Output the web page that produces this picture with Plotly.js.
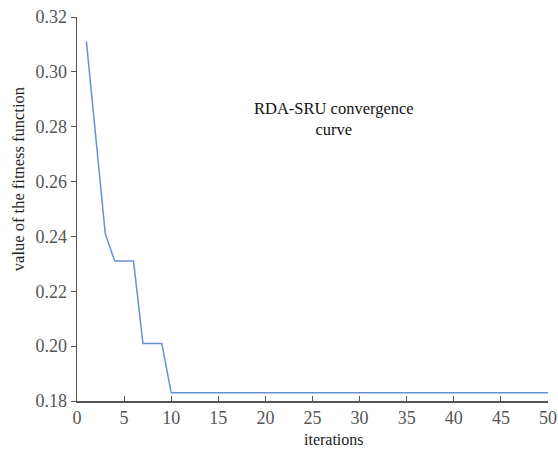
<!DOCTYPE html>
<html>
<head>
<meta charset="utf-8">
<script src="https://cdn.plot.ly/plotly-3.0.1.min.js"></script>
<style>html,body{margin:0;padding:0;background:#fff;}#chart{width:558px;height:451px;}</style>
</head>
<body>
<div id="chart"></div>
<script>
const iterations = [1,2,3,4,5,6,7,8,9,10,11,12,13,14,15,16,17,18,19,20,21,22,23,24,25,26,27,28,29,30,31,32,33,34,35,36,37,38,39,40,41,42,43,44,45,46,47,48,49,50];
const fitness = [0.311,0.276,0.241,0.231,0.231,0.231,0.201,0.201,0.201,0.183,
0.183,0.183,0.183,0.183,0.183,0.183,0.183,0.183,0.183,0.183,
0.183,0.183,0.183,0.183,0.183,0.183,0.183,0.183,0.183,0.183,
0.183,0.183,0.183,0.183,0.183,0.183,0.183,0.183,0.183,0.183,
0.183,0.183,0.183,0.183,0.183,0.183,0.183,0.183,0.183,0.183];
const xTicks = [0,5,10,15,20,25,30,35,40,45,50];
const yTicks = [0.18,0.20,0.22,0.24,0.26,0.28,0.30,0.32];
const yTickText = ['0.18','0.20','0.22','0.24','0.26','0.28','0.30','0.32'];
const label = 'RDA-SRU convergence<br>curve';
const xTitle = 'iterations';
const yTitle = 'value of the fitness function';

const fam = '"Liberation Serif", "Times New Roman", serif';
Plotly.newPlot('chart', [{
  x: iterations, y: fitness, type: 'scatter', mode: 'lines',
  line: {color: '#6a8fd4', width: 1.5}, hoverinfo: 'none'
}], {
  width: 558, height: 451,
  margin: {l: 77, r: 10, t: 17, b: 50},
  paper_bgcolor: '#fff', plot_bgcolor: '#fff',
  showlegend: false,
  font: {family: fam, color: '#444'},
  xaxis: {
    range: [0, 50], tickmode: 'array', tickvals: xTicks,
    ticks: 'inside', ticklen: 5, tickcolor: '#555', showgrid: false, zeroline: false,
    showline: true, linecolor: '#555', linewidth: 1.5,
    ticklabeloverflow: 'allow',
    tickfont: {size: 18, color: '#555', family: fam}
  },
  yaxis: {
    range: [0.18, 0.32], tickmode: 'array', tickvals: yTicks, ticktext: yTickText,
    ticks: 'outside', ticklen: 5, tickcolor: '#555', showgrid: false, zeroline: false,
    showline: true, linecolor: '#555', linewidth: 1.5,
    tickfont: {size: 18, color: '#555', family: fam}
  },
  annotations: [{
    text: label, xref: 'paper', yref: 'paper', x: 0.545, y: 0.734,
    xanchor: 'center', yanchor: 'middle', showarrow: false,
    font: {size: 16.5, color: '#111', family: fam}
  }, {
    text: xTitle, xref: 'paper', yref: 'paper', x: 0.545, y: -0.101,
    xanchor: 'center', yanchor: 'middle', showarrow: false,
    font: {size: 16, color: '#222', family: fam}
  }, {
    text: yTitle, xref: 'paper', yref: 'paper', x: -0.125, y: 0.578,
    xanchor: 'center', yanchor: 'middle', showarrow: false, textangle: -90,
    font: {size: 16.5, color: '#222', family: fam}
  }]
}, {staticPlot: true});
</script>
</body>
</html>
